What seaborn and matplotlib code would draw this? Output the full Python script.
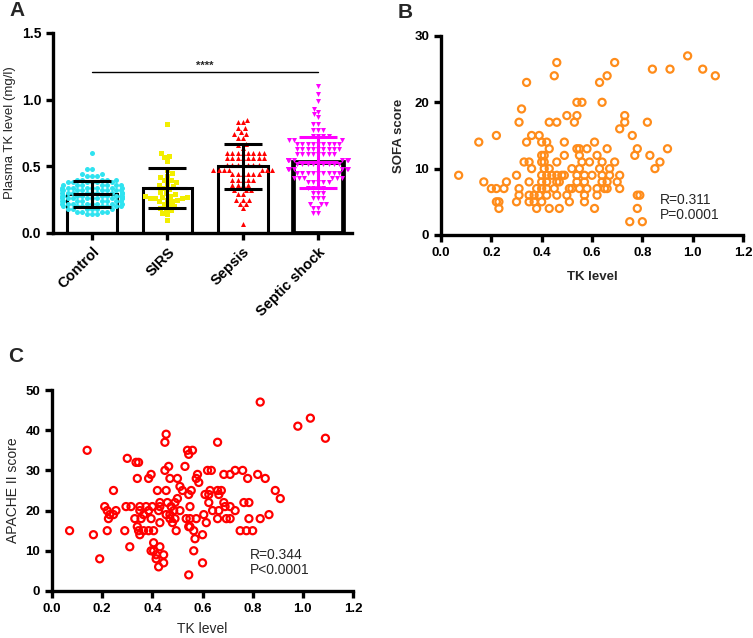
import numpy as np
import pandas as pd
import seaborn as sns
import matplotlib
matplotlib.use("Agg")
import matplotlib.pyplot as plt
from matplotlib.ticker import FormatStrFormatter

# Panel A: groups, bar means and SDs
groups = ["Control", "SIRS", "Sepsis", "Septic shock"]
group_colors = ["#2fe3f0", "#f2ee00", "#ff0000", "#ff00ff"]
group_markers = ["o", "s", "^", "v"]
err_colors = ["black", "black", "black", "#ff00ff"]
means = [0.29, 0.335, 0.50, 0.53]
sds = [0.097, 0.15, 0.17, 0.19]

control_tk = [
    0.60,
    0.48, 0.48,
    0.44, 0.43, 0.43, 0.44, 0.43,
    0.40, 0.40, 0.40, 0.40, 0.40,
    0.38, 0.38, 0.38, 0.38, 0.38, 0.38,
    0.36, 0.36, 0.36, 0.36, 0.36, 0.36, 0.36,
    0.34, 0.34, 0.34, 0.34, 0.34, 0.34, 0.34, 0.34,
    0.32, 0.32, 0.32, 0.32, 0.32, 0.32, 0.32, 0.32,
    0.30, 0.30, 0.30, 0.30, 0.30, 0.30, 0.30, 0.30, 0.30,
    0.28, 0.28, 0.28, 0.28, 0.28, 0.28, 0.28, 0.28, 0.28,
    0.26, 0.26, 0.26, 0.26, 0.26, 0.26, 0.26, 0.26, 0.26,
    0.24, 0.24, 0.24, 0.24, 0.24, 0.24, 0.24, 0.24,
    0.22, 0.22, 0.22, 0.22, 0.22, 0.22, 0.22, 0.22,
    0.20, 0.20, 0.20, 0.20, 0.20, 0.20, 0.20,
    0.18, 0.18, 0.18, 0.18, 0.18, 0.18,
    0.16, 0.16, 0.16, 0.16,
    0.14, 0.14, 0.14,
]
sirs_tk = [
    0.82, 0.60, 0.58, 0.57, 0.54, 0.47, 0.45, 0.43, 0.42, 0.40,
    0.40, 0.38, 0.37, 0.36, 0.35, 0.34, 0.33, 0.31, 0.30, 0.29,
    0.28, 0.28, 0.27, 0.27, 0.26, 0.26, 0.26, 0.25, 0.25, 0.24,
    0.24, 0.22, 0.21, 0.20, 0.19, 0.18, 0.17, 0.15, 0.14, 0.10,
]
sepsis_tk = [
    0.85, 0.83, 0.83, 0.79, 0.79, 0.76, 0.74, 0.74, 0.71, 0.71, 0.67, 0.66, 0.64,
    0.60, 0.60, 0.60, 0.60, 0.60, 0.60, 0.60, 0.60,
    0.56, 0.56, 0.56, 0.56, 0.56, 0.56, 0.56, 0.56,
    0.51, 0.51, 0.51, 0.51, 0.51, 0.51, 0.51,
    0.47, 0.47, 0.47, 0.47, 0.47, 0.47, 0.47,
    0.44, 0.44, 0.44, 0.44, 0.44, 0.44,
    0.40, 0.40, 0.40, 0.40, 0.40,
    0.36, 0.36, 0.36, 0.36,
    0.32, 0.32, 0.32,
    0.29, 0.29,
    0.25, 0.25, 0.25,
    0.22, 0.22,
    0.19, 0.07,
]
shock_tk = [
    1.10, 1.04, 0.99, 0.93, 0.91, 0.89, 0.87, 0.82, 0.82, 0.77, 0.77, 0.77,
    0.73, 0.73, 0.73, 0.73,
    0.70, 0.70, 0.70,
    0.67, 0.67, 0.67, 0.67, 0.67, 0.67, 0.67, 0.67, 0.67,
    0.63, 0.63, 0.63, 0.63, 0.63, 0.63, 0.63, 0.63, 0.63,
    0.59, 0.59, 0.59, 0.59, 0.59, 0.59, 0.59, 0.59,
    0.55, 0.55, 0.55, 0.55, 0.55, 0.55, 0.55, 0.55, 0.55,
    0.52, 0.52, 0.52, 0.52, 0.52, 0.52, 0.52, 0.52, 0.52,
    0.48, 0.48, 0.48, 0.48, 0.48, 0.48, 0.48,
    0.45, 0.45, 0.45, 0.45, 0.45, 0.45, 0.45, 0.45, 0.45,
    0.41, 0.41, 0.41, 0.41, 0.41, 0.41,
    0.38, 0.38, 0.38, 0.38, 0.38,
    0.34, 0.34, 0.34, 0.34,
    0.30, 0.30, 0.30,
    0.26, 0.26, 0.26,
    0.22, 0.22, 0.22,
    0.19, 0.19,
    0.15, 0.15,
]
group_values = [control_tk, sirs_tk, sepsis_tk, shock_tk]

# Panel B: TK level vs SOFA score
tk_b = [
    0.98,
    0.46, 0.69,
    0.84, 0.91, 1.04,
    0.45, 0.66, 1.09,
    0.34, 0.63,
    0.54, 0.56, 0.64,
    0.32,
    0.50, 0.54, 0.73,
    0.31, 0.43, 0.46, 0.53, 0.73, 0.82,
    0.71,
    0.22, 0.36, 0.39, 0.76,
    0.15, 0.34, 0.40, 0.42, 0.49, 0.61,
    0.43, 0.54, 0.55, 0.58, 0.66, 0.78, 0.90,
    0.40, 0.41, 0.49, 0.55, 0.62, 0.77, 0.83,
    0.33, 0.35, 0.40, 0.41, 0.46, 0.56, 0.59, 0.64, 0.69, 0.87,
    0.36, 0.41, 0.43, 0.52, 0.55, 0.63, 0.67, 0.85,
    0.07, 0.30, 0.40, 0.42, 0.44, 0.46, 0.48, 0.49, 0.54, 0.57, 0.60, 0.64, 0.67, 0.71,
    0.17, 0.26, 0.35, 0.40, 0.42, 0.46, 0.47, 0.54, 0.57, 0.64, 0.66, 0.70,
    0.20, 0.22, 0.25, 0.31, 0.38, 0.40, 0.42, 0.45, 0.51, 0.52, 0.55, 0.58, 0.62, 0.65, 0.66, 0.71,
    0.31, 0.35, 0.37, 0.39, 0.42, 0.46, 0.50, 0.57, 0.62, 0.78, 0.79,
    0.22, 0.23, 0.30, 0.35, 0.37, 0.40, 0.51, 0.57,
    0.23, 0.38, 0.43, 0.47, 0.61, 0.78,
    0.75, 0.80,
]
sofa = [
    27,
    26, 26,
    25, 25, 25,
    24, 24, 24,
    23, 23,
    20, 20, 20,
    19,
    18, 18, 18,
    17, 17, 17, 17, 17, 17,
    16,
    15, 15, 15, 15,
    14, 14, 14, 14, 14, 14,
    13, 13, 13, 13, 13, 13, 13,
    12, 12, 12, 12, 12, 12, 12,
    11, 11, 11, 11, 11, 11, 11, 11, 11, 11,
    10, 10, 10, 10, 10, 10, 10, 10,
    9, 9, 9, 9, 9, 9, 9, 9, 9, 9, 9, 9, 9, 9,
    8, 8, 8, 8, 8, 8, 8, 8, 8, 8, 8, 8,
    7, 7, 7, 7, 7, 7, 7, 7, 7, 7, 7, 7, 7, 7, 7, 7,
    6, 6, 6, 6, 6, 6, 6, 6, 6, 6, 6,
    5, 5, 5, 5, 5, 5, 5, 5,
    4, 4, 4, 4, 4, 4,
    2, 2,
]

# Panel C: TK level vs APACHE II score
tk_c = [
    0.83,
    1.03,
    0.98,
    0.455,
    1.09,
    0.45, 0.66,
    0.14, 0.54, 0.56,
    0.545,
    0.30,
    0.335, 0.345,
    0.465, 0.53,
    0.45, 0.62, 0.635, 0.73, 0.76,
    0.395, 0.58, 0.685, 0.71, 0.82,
    0.34, 0.385, 0.47, 0.50, 0.575, 0.78, 0.85,
    0.585,
    0.51,
    0.245, 0.42, 0.455, 0.52, 0.555, 0.63, 0.66, 0.675, 0.89,
    0.545, 0.61, 0.625, 0.665,
    0.50, 0.91,
    0.43, 0.46, 0.49, 0.625, 0.685, 0.765, 0.785,
    0.21, 0.295, 0.315, 0.35, 0.375, 0.40, 0.43, 0.475, 0.55, 0.69, 0.71,
    0.22, 0.255, 0.35, 0.385, 0.425, 0.485, 0.51, 0.64, 0.665, 0.73,
    0.23, 0.245, 0.365, 0.455, 0.47, 0.605, 0.865,
    0.225, 0.33, 0.355, 0.395, 0.47, 0.49, 0.535, 0.55, 0.575, 0.66, 0.695, 0.71, 0.785, 0.83,
    0.43, 0.48, 0.615,
    0.34, 0.545, 0.55,
    0.07, 0.22, 0.29, 0.345, 0.365, 0.385, 0.405, 0.495, 0.565, 0.75, 0.775, 0.80,
    0.165, 0.35, 0.60,
    0.57,
    0.405,
    0.31, 0.43,
    0.395, 0.405, 0.565,
    0.415, 0.445,
    0.19, 0.415,
    0.445, 0.60,
    0.425,
    0.545,
]
apache = [
    47,
    43,
    41,
    39,
    38,
    37, 37,
    35, 35, 35,
    34,
    33,
    32, 32,
    31, 31,
    30, 30, 30, 30, 30,
    29, 29, 29, 29, 29,
    28, 28, 28, 28, 28, 28, 28,
    27,
    26,
    25, 25, 25, 25, 25, 25, 25, 25, 25,
    24, 24, 24, 24,
    23, 23,
    22, 22, 22, 22, 22, 22, 22,
    21, 21, 21, 21, 21, 21, 21, 21, 21, 21, 21,
    20, 20, 20, 20, 20, 20, 20, 20, 20, 20,
    19, 19, 19, 19, 19, 19, 19,
    18, 18, 18, 18, 18, 18, 18, 18, 18, 18, 18, 18, 18, 18,
    17, 17, 17,
    16, 16, 16,
    15, 15, 15, 15, 15, 15, 15, 15, 15, 15, 15, 15,
    14, 14, 14,
    13,
    12,
    11, 11,
    10, 10, 10,
    9, 9,
    8, 8,
    7, 7,
    6,
    4,
]

sns.set_style("ticks")
plt.rcParams["font.family"] = ["Liberation Sans", "DejaVu Sans"]
plt.rcParams["axes.edgecolor"] = "black"

SPINE_W = 2.4


def style_axes(ax, labelsize=10):
    sns.despine(ax=ax)
    for side in ["left", "bottom"]:
        ax.spines[side].set_linewidth(SPINE_W)
    ax.tick_params(width=SPINE_W, length=5, labelsize=labelsize, colors="black")
    plt.setp(ax.get_xticklabels(), fontweight="bold")
    plt.setp(ax.get_yticklabels(), fontweight="bold")


fig = plt.figure(figsize=(7.53, 6.38), dpi=100)
axA = fig.add_axes([0.0704, 0.6348, 0.397, 0.3135])
axB = fig.add_axes([0.5857, 0.6317, 0.401, 0.3119])
axC = fig.add_axes([0.0691, 0.0737, 0.3997, 0.3150])

# ---- Panel A ----
sns.barplot(x=groups, y=means, order=groups, color="white", edgecolor="black",
            linewidth=2.2, width=0.66, errorbar=None, ax=axA)
axA.patches[3].set_linewidth(3.4)
for g, vals, c, m in zip(groups, group_values, group_colors, group_markers):
    sns.swarmplot(x=[g] * len(vals), y=vals, order=groups, color=c, marker=m,
                  size=3.6, linewidth=0, ax=axA, zorder=3)
for i, (m, sd, ec) in enumerate(zip(means, sds, err_colors)):
    axA.errorbar(i, m, yerr=sd, fmt="none", ecolor=ec, elinewidth=2.2,
                 capsize=14, capthick=2.2, zorder=4)
    axA.errorbar(i, m, xerr=0.26, fmt="none", ecolor=ec, elinewidth=2.2, zorder=4)
axA.plot([0, len(groups) - 1], [1.205, 1.205], color="black", lw=1)
axA.text((len(groups) - 1) / 2, 1.215, "****", ha="center", va="bottom", fontsize=8,
         fontweight="bold")
axA.set_xlim(-0.52, 3.45)
axA.set_ylim(0, 1.5)
axA.set_yticks([0, 0.5, 1.0, 1.5])
axA.yaxis.set_major_formatter(FormatStrFormatter("%.1f"))
axA.set_ylabel("Plasma TK level (mg/l)", fontsize=9.5)
axA.set_xlabel("")
style_axes(axA)
plt.setp(axA.get_xticklabels(), rotation=45, ha="right", rotation_mode="anchor",
         fontsize=10.5)

# ---- Panel B ----
sns.scatterplot(x=tk_b, y=sofa, ax=axB, s=26, facecolor="none", edgecolor="#ff8c1a",
                linewidth=1.6, clip_on=False)
axB.set_xlim(0, 1.2)
axB.set_ylim(0, 30)
axB.set_xticks(np.arange(0, 1.21, 0.2))
axB.set_yticks([0, 10, 20, 30])
axB.xaxis.set_major_formatter(FormatStrFormatter("%.1f"))
axB.set_xlabel("TK level", fontsize=9.5, fontweight="bold", labelpad=9)
axB.set_ylabel("SOFA score", fontsize=9.5, fontweight="bold", labelpad=7)
axB.text(0.87, 4.15, "R=0.311\nP=0.0001", fontsize=10, va="center", linespacing=1.1)
style_axes(axB, labelsize=9.5)

# ---- Panel C ----
sns.scatterplot(x=tk_c, y=apache, ax=axC, s=26, facecolor="none", edgecolor="#ff0000",
                linewidth=1.6, clip_on=False)
axC.set_xlim(0, 1.2)
axC.set_ylim(0, 50)
axC.set_xticks(np.arange(0, 1.21, 0.2))
axC.set_yticks([0, 10, 20, 30, 40, 50])
axC.xaxis.set_major_formatter(FormatStrFormatter("%.1f"))
axC.set_xlabel("TK level", fontsize=10, labelpad=5)
axC.set_ylabel("APACHE II score", fontsize=10)
axC.text(0.79, 7.05, "R=0.344\nP<0.0001", fontsize=10, va="center", linespacing=1.1)
style_axes(axC, labelsize=9.5)

fig.text(17 / 753, 1 - 10 / 638, "A", fontsize=15, fontweight="bold", ha="center", va="center")
fig.text(405 / 753, 1 - 13 / 638, "B", fontsize=15, fontweight="bold", ha="center", va="center")
fig.text(16 / 753, 1 - 357 / 638, "C", fontsize=15, fontweight="bold", ha="center", va="center")

fig.savefig("out.png", dpi=100)
